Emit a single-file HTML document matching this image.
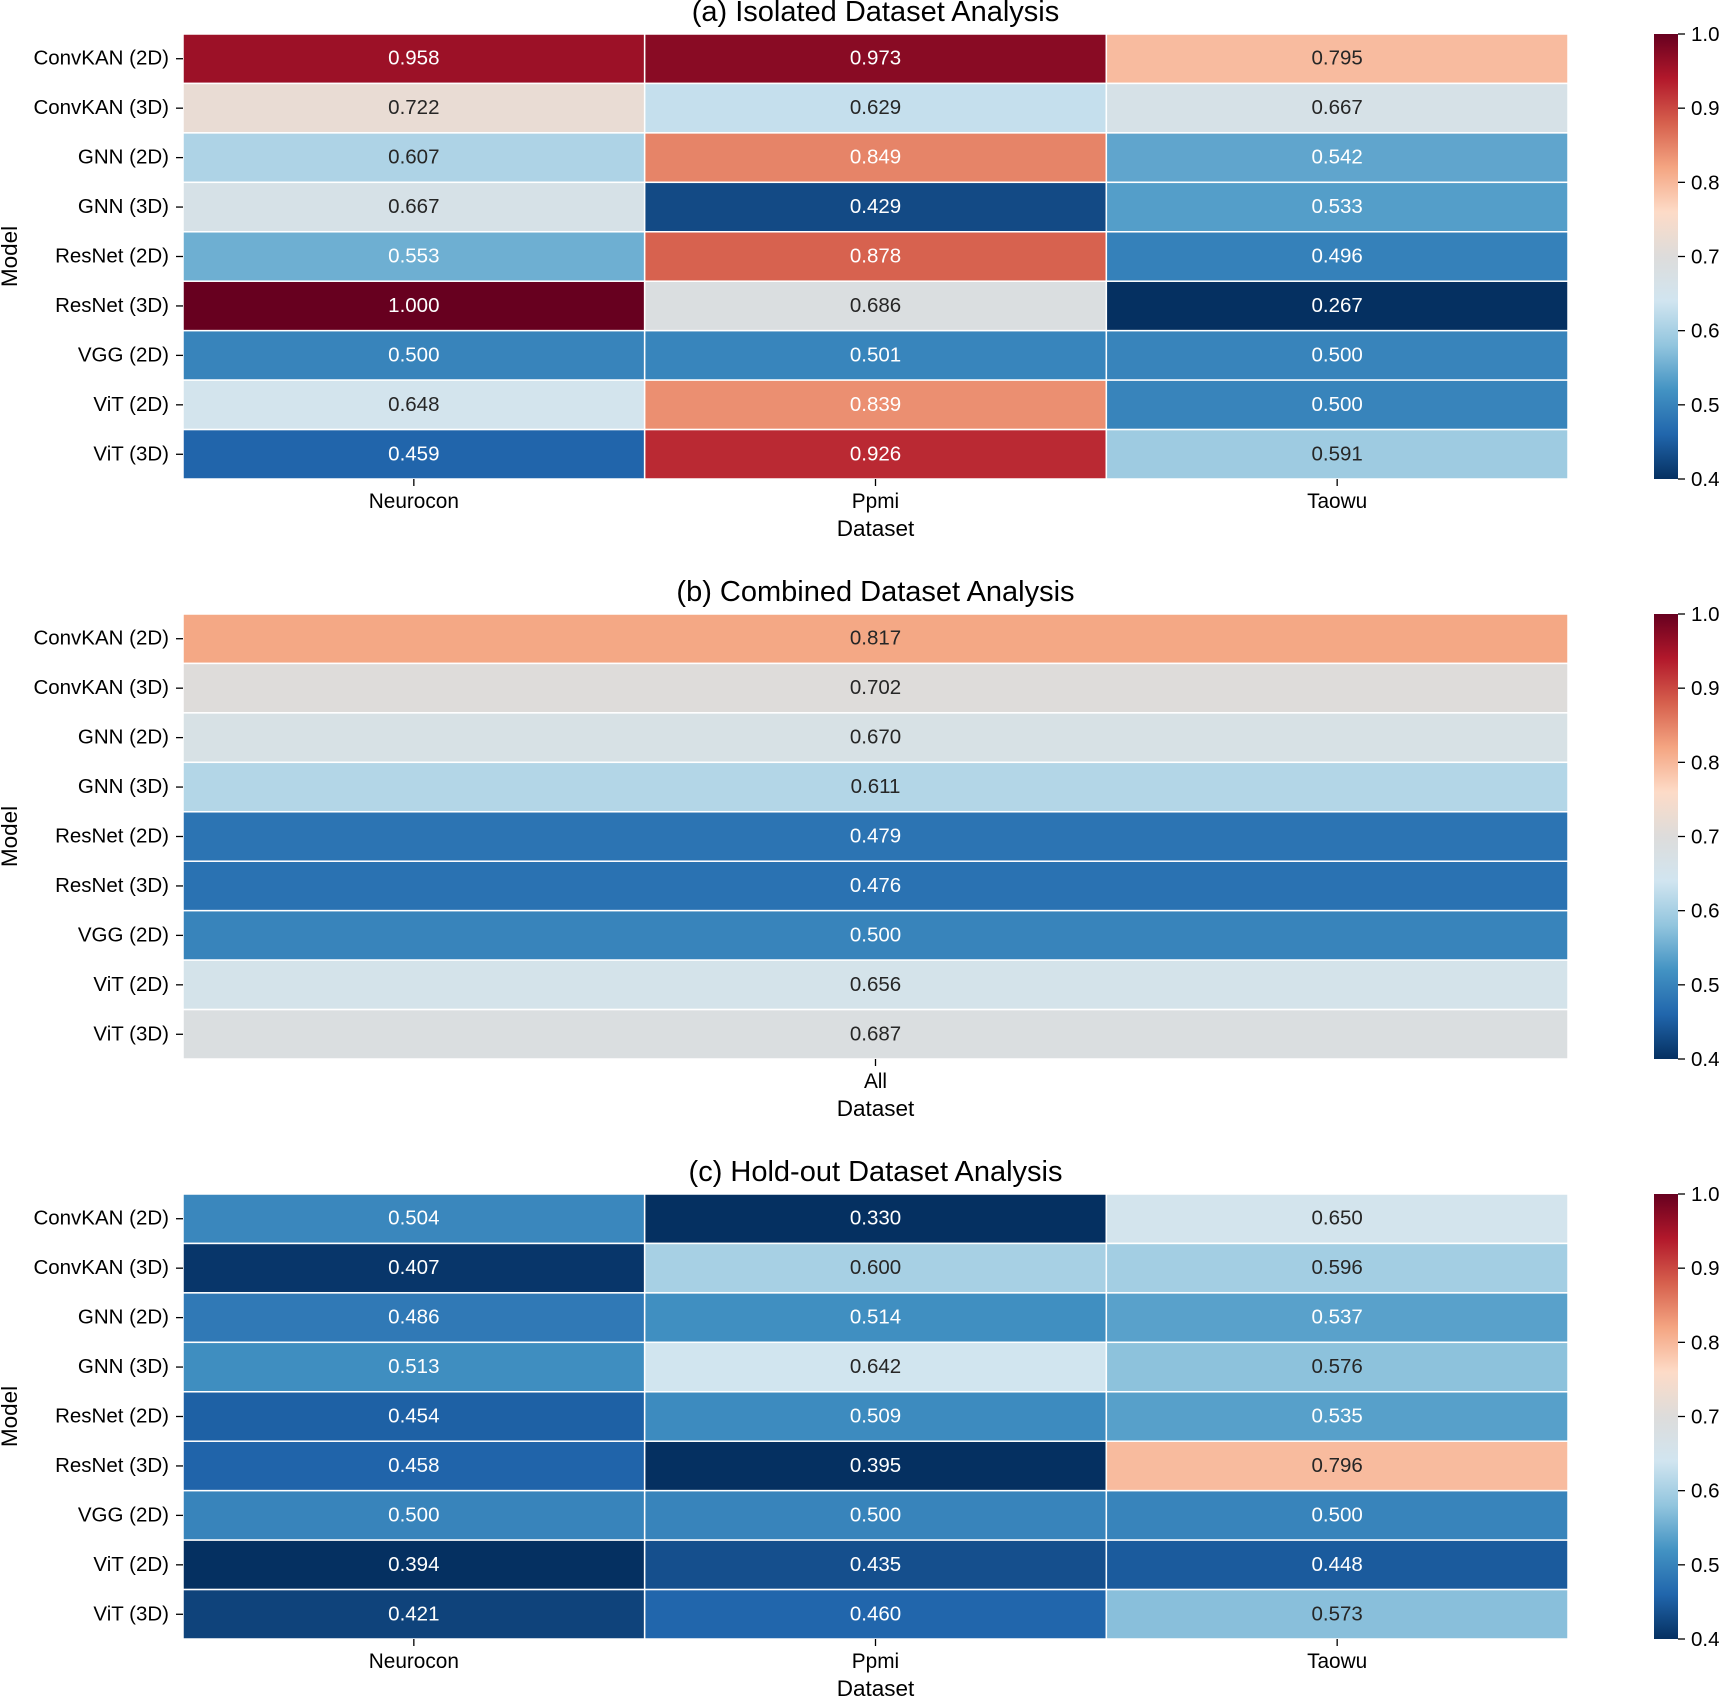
<!DOCTYPE html>
<html><head><meta charset="utf-8"><style>
html,body{margin:0;padding:0;background:#fff;}
svg{display:block;font-family:"Liberation Sans",Arial,sans-serif;}
</style></head><body>
<svg id="s" width="1719" height="1698" xmlns="http://www.w3.org/2000/svg">
<defs>
<linearGradient id="cb" x1="0" y1="1" x2="0" y2="0">
<stop offset="0" stop-color="#053061"/><stop offset="0.1" stop-color="#2166ac"/><stop offset="0.2" stop-color="#4393c3"/><stop offset="0.3" stop-color="#92c5de"/><stop offset="0.4" stop-color="#d1e5f0"/><stop offset="0.5" stop-color="#dddcdb"/><stop offset="0.6" stop-color="#fddbc7"/><stop offset="0.7" stop-color="#f4a582"/><stop offset="0.8" stop-color="#d6604d"/><stop offset="0.9" stop-color="#b2182b"/><stop offset="1" stop-color="#67001f"/>
</linearGradient>
</defs>
</svg>
<script>
const pts=["#053061","#2166ac","#4393c3","#92c5de","#d1e5f0","#dddcdb","#fddbc7","#f4a582","#d6604d","#b2182b","#67001f"].map(h=>[1,3,5].map(i=>parseInt(h.substr(i,2),16)));
function col(v){let t=Math.max(0,Math.min(1,(v-0.4)/0.6))*10;let i=Math.min(9,Math.floor(t)),f=t-i;const a=pts[i],b=pts[i+1];return a.map((x,k)=>x+(b[k]-x)*f);}
function lum(c){const l=c.map(x=>{x/=255;return x<=0.03928?x/12.92:Math.pow((x+0.055)/1.055,2.4)});return 0.2126*l[0]+0.7152*l[1]+0.0722*l[2];}
const models=["ConvKAN (2D)","ConvKAN (3D)","GNN (2D)","GNN (3D)","ResNet (2D)","ResNet (3D)","VGG (2D)","ViT (2D)","ViT (3D)"];
const panels=[
{t:"(a) Isolated Dataset Analysis",cols:["Neurocon","Ppmi","Taowu"],d:[[.958,.973,.795],[.722,.629,.667],[.607,.849,.542],[.667,.429,.533],[.553,.878,.496],[1.000,.686,.267],[.500,.501,.500],[.648,.839,.500],[.459,.926,.591]]},
{t:"(b) Combined Dataset Analysis",cols:["All"],d:[[.817],[.702],[.670],[.611],[.479],[.476],[.500],[.656],[.687]]},
{t:"(c) Hold-out Dataset Analysis",cols:["Neurocon","Ppmi","Taowu"],d:[[.504,.330,.650],[.407,.600,.596],[.486,.514,.537],[.513,.642,.576],[.454,.509,.535],[.458,.395,.796],[.500,.500,.500],[.394,.435,.448],[.421,.460,.573]]}];
let s="";const L=183,R=1568,W=R-L;
panels.forEach((p,pi)=>{
 const top=34+580*pi,H=445,rh=H/9,n=p.cols.length,cw=W/n;
 s+=`<text x="${(L+R)/2}" y="${top-13}" font-size="29" text-anchor="middle" fill="#000">${p.t}</text>`;
 p.d.forEach((row,r)=>{row.forEach((v,c)=>{const cc=col(v);const x=L+c*cw,y=top+r*rh;
  s+=`<rect x="${x}" y="${y}" width="${cw}" height="${rh}" fill="rgb(${cc.map(Math.round)})" stroke="#fff" stroke-width="1.5"/>`;
  s+=`<text x="${x+cw/2}" y="${y+rh/2+6}" font-size="20.5" text-anchor="middle" fill="${lum(cc)>0.408?'#262626':'#fff'}">${v.toFixed(3)}</text>`;});
  const yc=top+(r+.5)*rh;
  s+=`<line x1="176" y1="${yc}" x2="183" y2="${yc}" stroke="#000" stroke-width="1.3"/><text x="169" y="${yc+6}" font-size="20.5" text-anchor="end">${models[r]}</text>`;});
 p.cols.forEach((c,i)=>{const xc=L+(i+.5)*cw;s+=`<line x1="${xc}" y1="${top+H}" x2="${xc}" y2="${top+H+7}" stroke="#000" stroke-width="1.3"/><text x="${xc}" y="${top+H+29}" font-size="20.8" text-anchor="middle">${c}</text>`;});
 s+=`<text x="${(L+R)/2}" y="${top+H+57}" font-size="22.5" text-anchor="middle">Dataset</text>`;
 s+=`<text transform="translate(17,${top+H/2}) rotate(-90)" font-size="22.5" text-anchor="middle">Model</text>`;
 s+=`<rect x="1654" y="${top}" width="24" height="${H}" fill="url(#cb)"/>`;
 for(let k=0;k<=6;k++){const y=top+H-k*H/6;s+=`<line x1="1678" y1="${y}" x2="1685" y2="${y}" stroke="#000" stroke-width="1.3"/><text x="1691" y="${y+7}" font-size="20.5">${(0.4+k*0.1).toFixed(1)}</text>`;}
});
document.getElementById("s").insertAdjacentHTML("beforeend",s);
</script>
</body></html>
